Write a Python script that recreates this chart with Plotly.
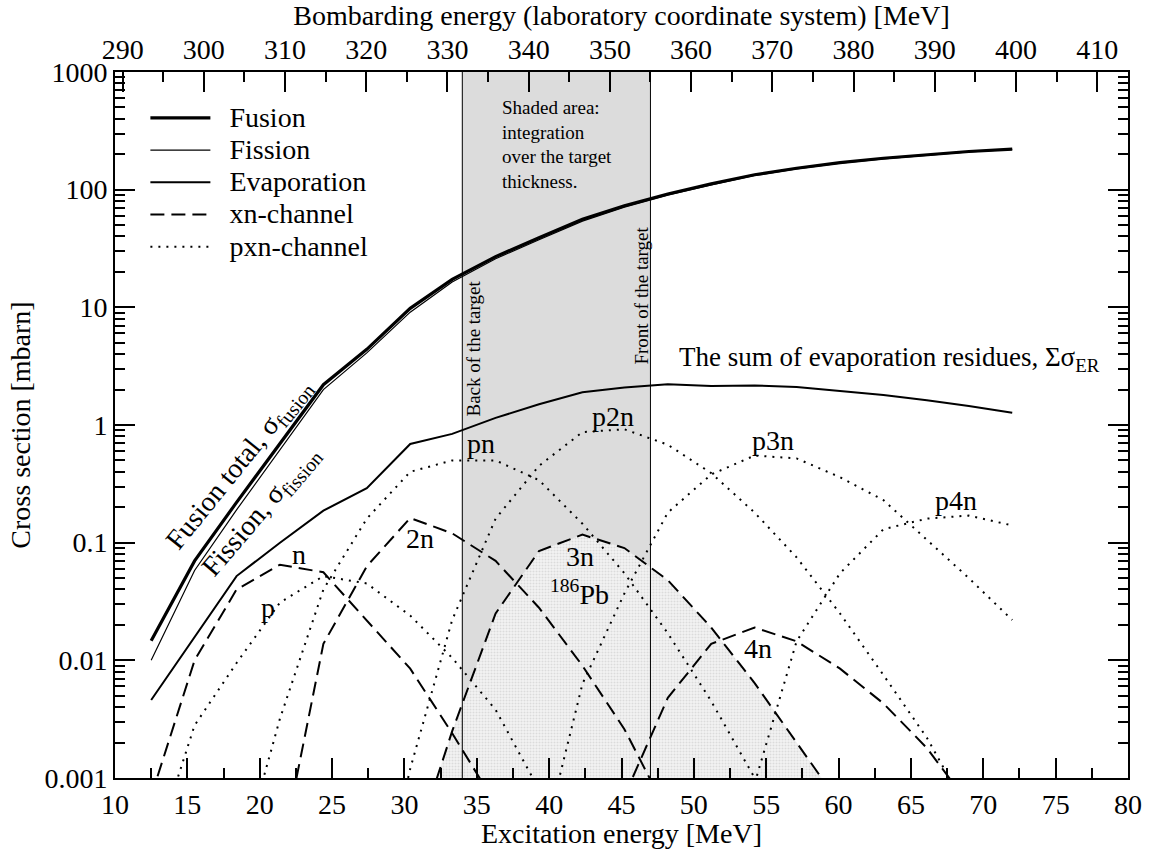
import math
import plotly.graph_objects as go

# ---------------- data ----------------
E = [12.5, 15.5, 18.4, 21.4, 24.4, 27.4, 30.4, 33.3, 36.3, 39.3, 42.3,
     45.2, 48.2, 51.2, 54.2, 57.1, 60.1, 63.1, 66.1, 69.0, 72.0]

fusion = [0.0147, 0.070, 0.22, 0.70, 2.2, 4.4, 9.8, 17.3, 27, 39, 56,
          73, 92, 112, 134, 152, 170, 185, 199, 211, 221]
fission = [0.0100, 0.058, 0.19, 0.62, 2.0, 4.1, 9.1, 16.4, 25.9, 37.5, 54,
           71, 90, 110, 132, 150, 168, 183, 197, 209, 220]
evaporation = [0.0046, 0.0158, 0.052, 0.10, 0.187, 0.29, 0.69, 0.84, 1.15, 1.5, 1.9,
               2.08, 2.22, 2.15, 2.17, 2.1, 1.95, 1.8, 1.62, 1.45, 1.27]

n_x = E[0:9]
n_y = [0.0007, 0.0100, 0.040, 0.065, 0.056, 0.022, 0.0085, 0.0024, 0.0006]
n2_x = E[3:13]
n2_y = [0.0002, 0.0138, 0.063, 0.162, 0.12, 0.07, 0.028, 0.009, 0.0026, 0.0005]
n3_x = E[6:17]
n3_y = [0.0002, 0.0025, 0.025, 0.085, 0.117, 0.09, 0.048, 0.019, 0.0064, 0.002, 0.0006]
n4_x = E[11:20]
n4_y = [0.0007, 0.0048, 0.0138, 0.019, 0.0145, 0.0085, 0.0043, 0.0018, 0.0006]

p_x = E[0:10]
p_y = [0.0002, 0.0028, 0.0095, 0.031, 0.052, 0.045, 0.024, 0.0105, 0.0038, 0.0008]
pn_x = E[2:16]
pn_y = [0.00015, 0.0032, 0.04, 0.16, 0.40, 0.50, 0.50, 0.34, 0.145, 0.055,
        0.017, 0.0045, 0.001, 0.0002]
p2n_x = E[5:20]
p2n_y = [0.00003, 0.0012, 0.022, 0.16, 0.45, 0.87, 0.92, 0.68, 0.39, 0.18,
         0.075, 0.025, 0.0075, 0.0022, 0.0005]
p3n_x = E[9:21]
p3n_y = [0.0002, 0.0063, 0.037, 0.18, 0.38, 0.55, 0.52, 0.36, 0.23, 0.105, 0.05, 0.022]
p4n_x = E[14:21]
p4n_y = [0.0009, 0.0145, 0.055, 0.13, 0.16, 0.17, 0.14]

target_back, target_front = 34.0, 47.0
ex_range = [10, 80]
lab_range = [289.06, 413.8]       # bombarding energy axis matched to excitation axis
y_tickvals = [0.001, 0.01, 0.1, 1, 10, 100, 1000]
y_ticktext = ["0.001", "0.01", "0.1", "1", "10", "100", "1000"]
legend_names = ["Fusion", "Fission", "Evaporation", "xn-channel", "pxn-channel"]
shade_lines = ["Shaded area:", "integration", "over the target", "thickness."]
floor = 1e-5

SERIF = "Liberation Serif, Times New Roman, Times, serif"
BLACK = "black"
DASH = "14px,7px"
DOT = "2px,6px"
FS = 28

fig = go.Figure()

# patterned area under the 3n (186Pb) excitation function
fig.add_trace(go.Scatter(
    x=n3_x + n3_x[::-1], y=n3_y + [floor] * len(n3_x),
    mode="none", fill="toself", fillcolor="#f3f3f3",
    fillpattern=dict(shape=".", fgcolor="#c4c4c4", bgcolor="#f3f3f3", size=3, solidity=0.35),
    showlegend=False, hoverinfo="skip"))


def leg(name):
    return "<span style='font-size:%dpx'>\u00a0\u00a0%s</span>" % (FS, name)


def line(x, y, name, width, dash, show):
    fig.add_trace(go.Scatter(
        x=x, y=y, mode="lines", name=name, showlegend=show,
        line=dict(color=BLACK, width=width, dash=dash), hoverinfo="skip"))


line(E, fusion, leg(legend_names[0]), 3.2, "solid", True)
line(E, fission, leg(legend_names[1]), 1.2, "solid", True)
line(E, evaporation, leg(legend_names[2]), 2.0, "solid", True)
line(n_x, n_y, leg(legend_names[3]), 2.0, DASH, True)
line(n2_x, n2_y, "2n", 2.0, DASH, False)
line(n3_x, n3_y, "3n", 2.0, DASH, False)
line(n4_x, n4_y, "4n", 2.0, DASH, False)
line(p_x, p_y, leg(legend_names[4]), 2.0, DOT, True)
line(pn_x, pn_y, "pn", 2.0, DOT, False)
line(p2n_x, p2n_y, "p2n", 2.0, DOT, False)
line(p3n_x, p3n_y, "p3n", 2.0, DOT, False)
line(p4n_x, p4n_y, "p4n", 2.0, DOT, False)

# invisible trace to carry the top (laboratory energy) axis
fig.add_trace(go.Scatter(x=lab_range, y=[1, 1], xaxis="x2", mode="lines",
                         line=dict(width=0), showlegend=False, hoverinfo="skip"))

# shaded target-thickness band
fig.add_shape(type="rect", xref="x", yref="paper", x0=target_back, x1=target_front,
              y0=0, y1=1, fillcolor="#dcdcdc", line=dict(width=0), layer="below")
for xv in (target_back, target_front):
    fig.add_shape(type="line", xref="x", yref="paper", x0=xv, x1=xv, y0=0, y1=1,
                  line=dict(color=BLACK, width=1), layer="above")

ann = []


def label(x, y, text, size=FS, angle=0, **kw):
    ann.append(dict(x=x, y=y, text=text, showarrow=False, textangle=angle,
                    xanchor="center", yanchor="middle",
                    font=dict(family=SERIF, size=size, color=BLACK), **kw))


L = math.log10
label(22.7, L(0.080), "n")
label(20.6, L(0.028), "p")
label(31.1, L(0.108), "2n")
label(35.3, L(0.69), "pn")
label(42.1, L(0.076), "3n")
label(42.1, L(0.038), "<sup>186</sup>Pb")
label(44.4, L(1.17), "p2n")
label(55.45, L(0.74), "p3n")
label(68.1, L(0.23), "p4n")
label(54.4, L(0.0125), "4n")
label(18.6, L(0.46), "Fusion total, σ<sub>fusion</sub>", angle=-51)
label(20.1, L(0.185), "Fission, σ<sub>fission</sub>", angle=-49.5)
label(63.5, L(3.63), "The sum of evaporation residues, Σσ<sub>ER</sub>", size=27)

ann.append(dict(x=36.6, xref="x", y=0.968, yref="paper", text="<br>".join(shade_lines),
                showarrow=False, xanchor="left", yanchor="top", align="left",
                font=dict(family=SERIF, size=19, color=BLACK)))
ann.append(dict(x=34.77, xref="x", y=0.609, yref="paper", text="Back of the target",
                showarrow=False, textangle=-90, xanchor="center", yanchor="middle",
                font=dict(family=SERIF, size=19, color=BLACK)))
ann.append(dict(x=46.4, xref="x", y=0.683, yref="paper", text="Front of the target",
                showarrow=False, textangle=-90, xanchor="center", yanchor="middle",
                font=dict(family=SERIF, size=19, color=BLACK)))

axis_common = dict(showgrid=False, zeroline=False, showline=True, linecolor=BLACK,
                   linewidth=2, ticks="inside", ticklen=20, tickwidth=1.5, tickcolor=BLACK,
                   automargin=False,
                   tickfont=dict(family=SERIF, size=FS, color=BLACK))

fig.update_layout(
    width=1149, height=849,
    margin=dict(l=115, r=21, t=72, b=71),
    paper_bgcolor="white", plot_bgcolor="white",
    font=dict(family=SERIF, size=FS, color=BLACK),
    showlegend=True,
    legend=dict(x=0.03, y=0.965, xanchor="left", yanchor="top", bgcolor="rgba(0,0,0,0)",
                font=dict(family=SERIF, size=22.5, color=BLACK), itemwidth=60,
                tracegroupgap=0),
    xaxis=dict(range=ex_range, dtick=5, tick0=10, mirror=True,
               minor=dict(ticks="inside", ticklen=10, dtick=2.5, tickcolor=BLACK, tickwidth=1.5),
               title=dict(text="Excitation energy [MeV]", standoff=0,
                          font=dict(family=SERIF, size=FS)),
               **axis_common),
    xaxis2=dict(range=lab_range, overlaying="x", side="top", dtick=10, tick0=290,
                minor=dict(ticks="inside", ticklen=10, dtick=5, tickcolor=BLACK, tickwidth=1.5),
                title=dict(text="Bombarding energy (laboratory coordinate system) [MeV]",
                           standoff=4, font=dict(family=SERIF, size=FS)),
                **axis_common),
    yaxis=dict(type="log", range=[-3, 3], tickvals=y_tickvals, ticktext=y_ticktext,
               mirror="ticks",
               minor=dict(ticks="inside", ticklen=10, dtick="D1", tickcolor=BLACK, tickwidth=1.5,
                          showgrid=False),
               title=dict(text="Cross section [mbarn]", standoff=6,
                          font=dict(family=SERIF, size=FS)),
               **axis_common),
    annotations=ann,
)

fig.write_html("out.html")
